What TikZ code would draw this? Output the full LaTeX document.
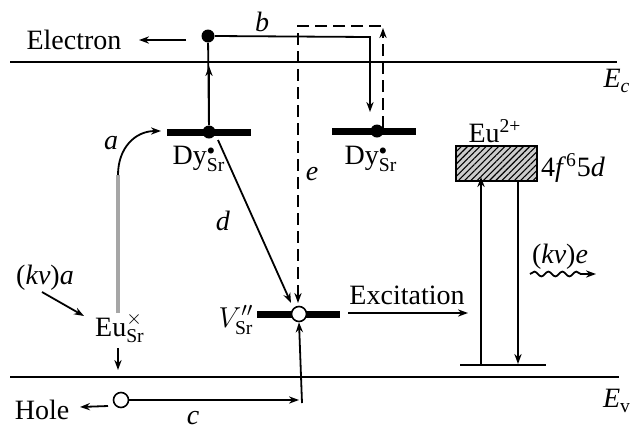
\documentclass[tikz,border=0pt]{standalone}
\usepackage{fontspec}
\setmainfont{Liberation Serif}
\usetikzlibrary{arrows.meta,patterns.meta,decorations.pathmorphing}
\begin{document}
\begin{tikzpicture}[x=0.5pt,y=-0.5pt,
  lbl/.style={font=\fontsize{14}{16}\selectfont, inner sep=0pt},
  thin/.style={line width=0.9pt},
  arr/.style={thin,-{Stealth[length=5pt,width=3.6pt]}},
  band/.style={line width=0.8pt},
  bar/.style={line width=3.5pt},
  dot/.style={circle,fill=black,minimum size=6.5pt,inner sep=0pt},
  hole/.style={circle,draw,fill=white,line width=0.8pt,minimum size=7.5pt,inner sep=0pt}]
\useasboundingbox (0,0) rectangle (632,446);
% bands
\coordinate (ecL) at (10,62); \coordinate (ecR) at (617,62);
\coordinate (evL) at (10,377); \coordinate (evR) at (619,377);
\draw[band] (ecL) -- (ecR);
\draw[band] (evL) -- (evR);
\node[lbl] (Ec) at (617,81) {\textit{E}\textsubscript{\textit{c}}};
\node[lbl] (Ev) at (617,401) {\textit{E}\textsubscript{v}};
% electron
\node[dot] (e1) at (208,36) {};
\node[lbl] (electron) at (74,40) {Electron};
\coordinate (ea) at (186,40); \coordinate (eb) at (139,40);
\draw[arr] (ea) -- (eb);
% Dy 1
\coordinate (dy1L) at (167,132); \coordinate (dy1R) at (251,132);
\draw[bar] (dy1L) -- (dy1R);
\node[dot] (d1) at (209,132) {};
\coordinate (ecup) at (209,66);
\draw[thin] (d1) -- (e1);
\draw[arr] (d1) -- (ecup);
\node[lbl] (dy1lab) at (199,159) {Dy$^{\scriptscriptstyle\bullet}_{\mathrm{Sr}}$};
% Dy 2
\coordinate (dy2L) at (332,131); \coordinate (dy2R) at (416,131);
\draw[bar] (dy2L) -- (dy2R);
\node[dot] (d2) at (377,131) {};
\node[lbl] (dy2lab) at (371,159) {Dy$^{\scriptscriptstyle\bullet}_{\mathrm{Sr}}$};
% b
\coordinate (bc) at (370,37); \coordinate (bend) at (370,112);
\draw[arr] (e1.east) -- (bc) -- (bend);
\node[lbl] (blab) at (262,22) {\textit{b}};
% e (dashed)
\coordinate (eup0) at (383,128); \coordinate (eup1) at (383,28);
\coordinate (etop) at (381,26); \coordinate (evv) at (298,303);
\draw[arr,dashed,dash pattern=on 6pt off 3pt] (eup0) -- (eup1);
\draw[arr,dashed,dash pattern=on 6pt off 3pt] (etop) -| (evv);
\node[lbl] (elab) at (312,174) {\textit{e}};
% V''Sr
\coordinate (vL) at (257,314); \coordinate (vR) at (340,314);
\draw[bar] (vL) -- (vR);
\node[hole] (v) at (299,314) {};
\node[lbl] (vlab) at (236,320) {$V''_{\mathrm{Sr}}$};
% d
\coordinate (ds) at (218,140); \coordinate (de) at (291,303);
\draw[arr] (ds) -- (de);
\node[lbl] (dlab) at (223,221) {\textit{d}};
% excitation
\node[lbl] (exc) at (407,295) {Excitation};
\coordinate (xa) at (348,313); \coordinate (xb) at (468,313);
\draw[arr] (xa) -- (xb);
% Eu2+ centre
\node[lbl] (eulab) at (495,131) {Eu\textsuperscript{2+}};
\fill[gray!40] (456,146) rectangle (537,181);
\fill[pattern={Lines[angle=45,distance=2.2pt,line width=0.55pt]}] (456,146) rectangle (537,181);
\draw[thin] (456,146) rectangle (537,181);
\node[lbl] (fd) at (573,168) {4\textit{f}\textsuperscript{6}5\textit{d}};
\coordinate (ua) at (481,365); \coordinate (ub) at (481,177);
\coordinate (da) at (518,181); \coordinate (db) at (518,364);
\draw[arr] (ua) -- (ub);
\draw[arr] (da) -- (db);
\coordinate (gL) at (460,365); \coordinate (gR) at (546,365);
\draw[thin] (gL) -- (gR);
\node[lbl] (kve) at (560,257) {(\textit{kν})\textit{e}};
\coordinate (wa) at (530,274); \coordinate (wb) at (596,274);
\draw[arr,decorate,decoration={snake,amplitude=1.2pt,segment length=7pt,post length=5pt}] (wa) -- (wb);
% Eu x Sr and a
\node[lbl] (eux) at (120,328) {Eu$^{\times}_{\mathrm{Sr}}$};
\coordinate (ga) at (118,313); \coordinate (gb) at (118,175); \coordinate (gc) at (161,131);
\draw[gray!70,line width=1.6pt] (ga) -- (gb);
\draw[arr] (gb) .. controls (118,148) and (135,131) .. (gc);
\node[lbl] (alab) at (111,143) {\textit{a}};
\coordinate (eud0) at (118,348); \coordinate (eud1) at (118,370);
\draw[arr] (eud0) -- (eud1);
\node[lbl] (kva) at (45,278) {(\textit{kν})\textit{a}};
\coordinate (ka) at (42,292); \coordinate (kb) at (84,316);
\draw[arr] (ka) -- (kb);
% hole and c
\node[lbl] (holelab) at (42,410) {Hole};
\node[hole] (h) at (121,400) {};
\coordinate (ha) at (108,406); \coordinate (hb) at (80,407);
\draw[arr] (ha) -- (hb);
\coordinate (cc) at (299,400); \coordinate (cv) at (302,403);
\draw[arr] (h.east) -- (cc);
\draw[arr] (cv) -- (v.south);
\node[lbl] (clab) at (193,418) {\textit{c}};
\end{tikzpicture}
\end{document}
